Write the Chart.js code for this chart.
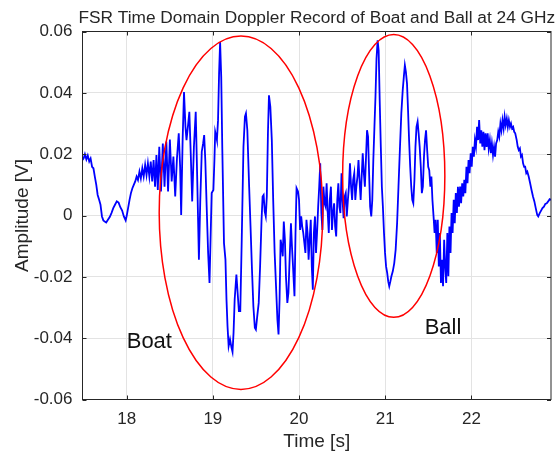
<!DOCTYPE html>
<html>
<head>
<meta charset="utf-8">
<title>FSR Time Domain Doppler Record</title>
<script src="https://cdn.jsdelivr.net/npm/chart.js@4/dist/chart.umd.min.js"></script>
<style>
  html, body { margin: 0; padding: 0; background: #fff; }
  #mycanvas { display: block; }
</style>
</head>
<body>
<canvas id="mycanvas" width="555" height="452"></canvas>
<script>
// signal, split into pieces: time [s] / amplitude [V]
var leadT = [17.487,17.50,17.515,17.532,17.548,17.565,17.581,17.598,17.614,17.630,
  17.647,17.663,17.680,17.696,17.713,17.729,17.745,17.762,17.782,17.803,
  17.823,17.844,17.864,17.885,17.906,17.926,17.947,17.967,17.988,18.000,
  18.016,18.033,18.049,18.066,18.082,18.099,18.115,18.131,18.148,18.164,
  18.181,18.197,18.214,18.230,18.246,18.263,18.279,18.296,18.312,18.329,
  18.345,18.361];
var leadV = [0.0181,0.0186,0.0200,0.0183,0.0196,0.0176,0.0186,0.0159,0.0154,0.0127,
  0.0100,0.0067,0.0051,0.0035,-0.0003,-0.0016,-0.0020,-0.0023,-0.0014,-0.0005,
  0.0008,0.0024,0.0035,0.0046,0.0042,0.0027,0.0016,-0.0003,-0.0016,-0.0001,
  0.0024,0.0051,0.0073,0.0089,0.0100,0.0111,0.0127,0.0116,0.0143,0.0121,
  0.0154,0.0127,0.0165,0.0132,0.0170,0.0127,0.0176,0.0111,0.0181,0.0094,
  0.0197,0.0083];

var boatT = [18.378,18.398,18.419,18.439,18.460,18.480,18.501,18.522,18.542,18.563,
  18.583,18.604,18.620,18.632,18.649,18.665,18.682,18.694,18.710,18.727,
  18.743,18.760,18.780,18.801,18.817,18.838,18.854,18.871,18.887,18.899,
  18.912,18.928,18.945,18.961,18.973,18.986,19.006,19.018,19.027,19.039,
  19.047,19.060,19.072,19.084,19.097,19.109,19.129,19.146,19.158,19.170,
  19.183,19.199,19.216,19.228,19.240,19.253,19.273,19.285,19.302,19.318,
  19.335,19.355,19.372,19.384,19.400,19.421,19.437,19.454,19.470,19.487,
  19.499,19.515,19.532,19.548,19.565,19.577,19.589,19.602,19.614,19.626,
  19.639,19.651,19.667,19.684,19.700,19.717,19.733,19.749,19.762,19.774,
  19.786,19.799,19.811,19.823,19.836,19.848,19.864,19.877,19.889,19.906,
  19.918,19.930,19.947,19.959,19.971,19.988,20.000,20.012,20.025,20.037,
  20.049,20.062,20.074,20.086,20.099,20.111,20.123,20.136,20.148,20.160,
  20.172,20.185,20.197,20.209,20.222,20.234,20.246];
var boatV = [0.0224,0.0078,0.0235,0.0094,0.0241,0.0078,0.0248,0.0111,0.0192,0.0062,
  0.0186,0.0268,0.0159,0.0002,0.0246,0.0403,0.0289,0.0246,0.0289,0.0338,
  0.0203,0.0046,0.0224,0.0338,0.0138,-0.0144,0.0051,0.0208,0.0235,0.0262,
  0.0181,0.0029,-0.0122,-0.0220,-0.0079,0.0073,0.0083,0.0181,0.0273,0.0257,
  0.0246,0.0311,0.0463,0.0566,0.0452,0.0224,-0.0090,-0.0144,-0.0274,-0.0361,
  -0.0426,-0.0404,-0.0431,-0.0445,-0.0382,-0.0274,-0.0193,-0.0242,-0.0312,-0.0312,
  -0.0079,0.0224,0.0322,0.0333,0.0278,0.0094,-0.0036,-0.0177,-0.0296,-0.0366,
  -0.0372,-0.0328,-0.0285,-0.0166,-0.0014,0.0062,0.0067,0.0013,-0.0003,0.0062,
  0.0268,0.0392,0.0354,0.0246,0.0051,-0.0122,-0.0231,-0.0339,-0.0388,-0.0274,
  -0.0079,-0.0101,-0.0133,-0.0020,-0.0079,-0.0198,-0.0285,-0.0252,-0.0155,-0.0025,
  -0.0101,-0.0166,-0.0263,-0.0057,0.0089,0.0078,0.0051,-0.0047,-0.0003,-0.0036,
  -0.0057,-0.0090,-0.0122,-0.0014,-0.0057,-0.0144,-0.0079,-0.0014,-0.0166,-0.0242,
  -0.0057,-0.0003,-0.0122,-0.0057,0.0029,0.0094,0.0170];

var midT = [20.259,20.271,20.283,20.296,20.308,20.320,20.333,20.345,20.357,20.370,
  20.382,20.394,20.407,20.419,20.431,20.444,20.456,20.468,20.480,20.493,
  20.505,20.517,20.530,20.542,20.554,20.567,20.579,20.591,20.604,20.616,
  20.628,20.641,20.653,20.665,20.678,20.690,20.702,20.715,20.727,20.739,
  20.752,20.764,20.776,20.789,20.801,20.813,20.825,20.838,20.850];
var midV = [0.0008,-0.0047,0.0094,0.0040,0.0029,0.0105,0.0008,-0.0057,0.0051,0.0094,
  -0.0047,0.0008,0.0040,-0.0036,-0.0068,0.0051,0.0105,0.0029,0.0008,0.0138,
  0.0051,-0.0009,0.0062,0.0073,-0.0003,0.0051,0.0094,0.0170,0.0094,0.0051,
  0.0116,0.0138,0.0051,0.0094,0.0127,0.0181,0.0116,0.0051,0.0127,0.0203,
  0.0138,0.0094,0.0181,0.0278,0.0257,0.0138,0.0029,-0.0003,0.0051];

var ballT = [20.862,20.875,20.887,20.899,20.912,20.924,20.936,20.949,20.961,20.973,
  20.986,20.998,21.010,21.023,21.035,21.047,21.060,21.072,21.088,21.105,
  21.121,21.138,21.154,21.170,21.187,21.203,21.216,21.228,21.240,21.253,
  21.265,21.277,21.290,21.302,21.314,21.326,21.339,21.351,21.363,21.376,
  21.388,21.400,21.413,21.425,21.437,21.450,21.462,21.474,21.487,21.499,
  21.511,21.524,21.536,21.548,21.561,21.573,21.585,21.598,21.610,21.622,
  21.634,21.647,21.659,21.671,21.684,21.696,21.708,21.721,21.733,21.745,
  21.758,21.770,21.782,21.795,21.807,21.819,21.832,21.844,21.856,21.869,
  21.881];
var ballV = [0.0181,0.0289,0.0387,0.0511,0.0571,0.0538,0.0376,0.0224,0.0094,0.0029,
  -0.0057,-0.0122,-0.0166,-0.0187,-0.0215,-0.0231,-0.0215,-0.0198,-0.0182,-0.0155,
  -0.0112,-0.0025,0.0094,0.0213,0.0333,0.0408,0.0452,0.0490,0.0468,0.0430,
  0.0343,0.0246,0.0159,0.0094,0.0051,0.0040,0.0116,0.0224,0.0289,0.0306,
  0.0268,0.0224,0.0159,0.0073,0.0094,0.0192,0.0246,0.0278,0.0213,0.0159,
  0.0148,0.0094,0.0127,0.0051,-0.0003,-0.0057,-0.0014,-0.0122,-0.0014,-0.0166,
  -0.0057,-0.0220,-0.0144,-0.0231,-0.0079,-0.0166,-0.0220,-0.0057,-0.0198,-0.0036,
  -0.0122,0.0008,-0.0057,0.0051,-0.0025,0.0073,0.0008,0.0094,0.0029,0.0094,
  0.0040];

var tailT = [21.893,21.906,21.918,21.930,21.943,21.955,21.967,21.979,21.992,22.004,
  22.016,22.029,22.041,22.053,22.066,22.078,22.090,22.103,22.115,22.127,
  22.140,22.152,22.164,22.177,22.189,22.201,22.214,22.226,22.238,22.251,
  22.263,22.275,22.287,22.300,22.312,22.324,22.337,22.349,22.361,22.374,
  22.386,22.398,22.411,22.423,22.435,22.448,22.460,22.472,22.485,22.497,
  22.509,22.526,22.538,22.550,22.563,22.575,22.587,22.600,22.612,22.624,
  22.637,22.649,22.665,22.682,22.698,22.715,22.731,22.747,22.764,22.776,
  22.793,22.809,22.825,22.842,22.858,22.875,22.891,22.908,22.924];
var tailV = [0.0105,0.0062,0.0116,0.0073,0.0159,0.0105,0.0181,0.0138,0.0203,0.0159,
  0.0224,0.0192,0.0246,0.0224,0.0289,0.0246,0.0311,0.0235,0.0278,0.0224,
  0.0273,0.0213,0.0268,0.0224,0.0268,0.0219,0.0246,0.0203,0.0235,0.0197,
  0.0224,0.0192,0.0235,0.0246,0.0273,0.0257,0.0300,0.0278,0.0311,0.0284,
  0.0322,0.0295,0.0316,0.0289,0.0311,0.0289,0.0300,0.0284,0.0289,0.0273,
  0.0268,0.0246,0.0224,0.0213,0.0219,0.0192,0.0197,0.0170,0.0159,0.0159,
  0.0138,0.0143,0.0127,0.0105,0.0083,0.0062,0.0046,0.0024,0.0002,-0.0003,
  0.0008,0.0016,0.0024,0.0029,0.0038,0.0040,0.0046,0.0053,0.0051];

// ticks
var xTicks = [18, 19, 20, 21, 22];
var xTickLabels = ['18', '19', '20', '21', '22'];
var yTicks = [-0.06, -0.04, -0.02, 0, 0.02, 0.04, 0.06];
var yTickLabels = ['-0.06', '-0.04', '-0.02', '0', '0.02', '0.04', '0.06'];

// red ellipses (centre / radius in data units) and their labels
var ellCenterT = [19.326, 21.099];
var ellCenterV = [0.0009, 0.0129];
var ellRadiusT = [0.949, 0.593];
var ellRadiusV = [0.0576, 0.0461];
var noteText = ['Boat', 'Ball'];
var noteT = [18.0, 21.458];
var noteV = [-0.0431, -0.0386];

var points = [];
[[leadT, leadV], [boatT, boatV], [midT, midV], [ballT, ballV], [tailT, tailV]].forEach(function(seg) {
  for (var i = 0; i < seg[0].length; i++) {
    points.push({ x: seg[0][i], y: seg[1][i] });
  }
});

var FONT = '"Liberation Sans", Arial, Helvetica, sans-serif';
var INK = '#262626';

var decorations = {
  id: 'decorations',
  afterDatasetsDraw: function(chart) {
    var ctx = chart.ctx, xs = chart.scales.x, ys = chart.scales.y;
    ctx.save();
    ctx.strokeStyle = '#ff0000';
    ctx.lineWidth = 1.5;
    for (var i = 0; i < ellCenterT.length; i++) {
      var cx = xs.getPixelForValue(ellCenterT[i]);
      var cy = ys.getPixelForValue(ellCenterV[i]);
      var rx = Math.abs(xs.getPixelForValue(ellCenterT[i] + ellRadiusT[i]) - cx);
      var ry = Math.abs(ys.getPixelForValue(ellCenterV[i] + ellRadiusV[i]) - cy);
      ctx.beginPath();
      ctx.ellipse(cx, cy, rx, ry, 0, 0, Math.PI * 2);
      ctx.stroke();
    }
    ctx.fillStyle = '#111';
    ctx.font = '22px ' + FONT;
    ctx.textAlign = 'left';
    ctx.textBaseline = 'alphabetic';
    for (var j = 0; j < noteText.length; j++) {
      ctx.fillText(noteText[j], xs.getPixelForValue(noteT[j]), ys.getPixelForValue(noteV[j]));
    }
    ctx.restore();
  },
  afterDraw: function(chart) {
    var ctx = chart.ctx, a = chart.chartArea, xs = chart.scales.x, ys = chart.scales.y;
    ctx.save();
    // box + inward ticks
    ctx.strokeStyle = INK;
    ctx.lineWidth = 1;
    ctx.strokeRect(a.left, a.top, a.right - a.left, a.bottom - a.top);
    ctx.beginPath();
    xTicks.forEach(function(t) {
      var px = Math.round(xs.getPixelForValue(t)) + 0.5;
      ctx.moveTo(px, a.bottom); ctx.lineTo(px, a.bottom - 4);
      ctx.moveTo(px, a.top); ctx.lineTo(px, a.top + 4);
    });
    yTicks.forEach(function(v) {
      var py = Math.round(ys.getPixelForValue(v)) + 0.5;
      ctx.moveTo(a.left, py); ctx.lineTo(a.left + 4, py);
      ctx.moveTo(a.right, py); ctx.lineTo(a.right - 4, py);
    });
    ctx.stroke();

    var mid = (a.left + a.right) / 2;
    ctx.fillStyle = INK;
    ctx.textAlign = 'center';
    ctx.textBaseline = 'alphabetic';
    ctx.font = '17.3px ' + FONT;
    ctx.fillText('FSR Time Domain Doppler Record of Boat and Ball at 24 GHz', mid, 22.7);
    ctx.font = '19px ' + FONT;
    ctx.fillText('Time [s]', mid, 446.5);
    ctx.translate(27.6, (a.top + a.bottom) / 2);
    ctx.rotate(-Math.PI / 2);
    ctx.fillText('Amplitude [V]', 0, 0);
    ctx.restore();
  }
};

var ctx = document.getElementById('mycanvas');
var chart = new Chart(ctx, {
  type: 'line',
  data: {
    datasets: [{
      label: 'Amplitude',
      data: points,
      borderColor: '#0000ff',
      borderWidth: 1.8,
      pointRadius: 0,
      tension: 0,
      fill: false
    }]
  },
  options: {
    responsive: false,
    animation: false,
    layout: { padding: { top: 31.5, right: 4, left: 0, bottom: 0 } },
    plugins: {
      legend: { display: false },
      tooltip: { enabled: false },
      title: { display: false }
    },
    scales: {
      x: {
        type: 'linear',
        min: 17.487,
        max: 22.924,
        afterBuildTicks: function(s) { s.ticks = xTicks.map(function(v) { return { value: v }; }); },
        afterFit: function(s) { s.height = 52.5; s.paddingLeft = 0; s.paddingRight = 0; },
        ticks: {
          padding: 10,
          color: INK,
          font: { family: FONT, size: 17 },
          maxRotation: 0,
          callback: function(value, index) { return xTickLabels[index]; }
        },
        grid: { color: '#e3e3e3', drawTicks: false },
        border: { display: false }
      },
      y: {
        type: 'linear',
        min: -0.06,
        max: 0.06,
        afterBuildTicks: function(s) { s.ticks = yTicks.map(function(v) { return { value: v }; }); },
        afterFit: function(s) { s.width = 82.5; s.paddingTop = 0; s.paddingBottom = 0; },
        ticks: {
          padding: 10,
          color: INK,
          font: { family: FONT, size: 17 },
          callback: function(value, index) { return yTickLabels[index]; }
        },
        grid: { color: '#e3e3e3', drawTicks: false },
        border: { display: false }
      }
    }
  },
  plugins: [decorations]
});
</script>
</body>
</html>
